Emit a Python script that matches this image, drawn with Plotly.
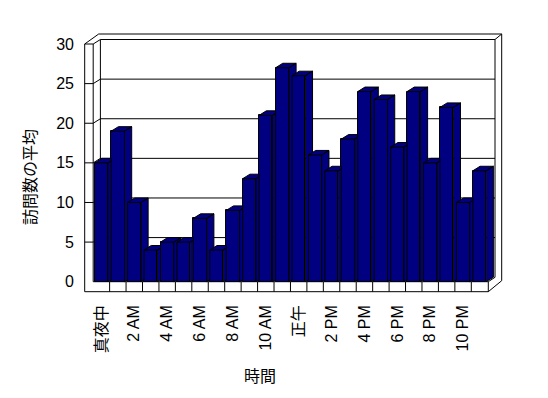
import plotly.graph_objects as go

# ---------------- data ----------------
hours = list(range(24))
visits = [15, 19, 10, 4, 5, 5, 8, 4, 9, 13, 21, 27, 26, 16, 14, 18, 24, 23, 17, 24, 15, 22, 10, 14]
tick_positions = [0, 2, 4, 6, 8, 10, 12, 14, 16, 18, 20, 22]
tick_labels = ["真夜中", "2 AM", "4 AM", "6 AM", "8 AM", "10 AM", "正午",
               "2 PM", "4 PM", "6 PM", "8 PM", "10 PM"]
y_ticks = [0, 5, 10, 15, 20, 25, 30]
x_title = "時間"
y_title = "訪問数の平均"

# ---------------- layout geometry ----------------
W, H = 548, 398
ML, MR, MT, MB = 80, 43, 30, 103
PX_X = 16.44      # px per category
PX_Y = 7.923      # px per value unit
X0_PX = 101.4     # px of category 0 centre
Y0_PX = 281.7     # px of value 0


def px2x(p):
    return (p - X0_PX) / PX_X


def px2y(p):
    return (Y0_PX - p) / PX_Y


x_range = [px2x(ML), px2x(W - MR)]
y_range = [px2y(H - MB), px2y(MT)]

BAR_W = 0.81
DX = 7.2 / PX_X          # depth offset (x, data units)
DY = 4.5 / PX_Y          # depth offset (y, data units)
S = DY / DX
NAVY = "#000080"
FONT = "Liberation Sans, Arial, Noto Sans CJK JP, sans-serif"

fig = go.Figure()

# front faces
fig.add_trace(go.Bar(
    x=hours, y=visits, width=BAR_W,
    marker=dict(color=NAVY, line=dict(color="black", width=1)),
    hoverinfo="skip", showlegend=False,
))

# side and top faces (clipped by the next bar's front face)
n = len(hours)
for i in range(n):
    xc, v = hours[i], visits[i]
    L, R = xc - BAR_W / 2, xc + BAR_W / 2
    xs, ys = [], []
    if i < n - 1:
        vn = visits[i + 1]
        Ln = hours[i + 1] - BAR_W / 2
        g = Ln - R
        # side face
        if vn >= v + DY:
            side = [(R, 0), (R, v), (Ln, v + g * S), (Ln, g * S)]
            pieces = [side]
        elif vn <= v + g * S:
            side = [(R, 0), (R, v), (R + DX, v + DY), (R + DX, vn), (Ln, vn), (Ln, g * S)]
            pieces = [side]
        else:
            xcut = R + (vn - v) / S
            pieces = [[(R, 0), (R, v), (Ln, v + g * S), (Ln, g * S)],
                      [(xcut, vn), (R + DX, v + DY), (R + DX, vn)]]
        # top face
        if vn > v:
            top = [(L, v), (R, v), (Ln, v + g * S), (Ln, v + DY), (L + DX, v + DY)]
        else:
            top = [(L, v), (R, v), (R + DX, v + DY), (L + DX, v + DY)]
        pieces.append(top)
    else:
        pieces = [[(R, 0), (R, v), (R + DX, v + DY), (R + DX, DY)],
                  [(L, v), (R, v), (R + DX, v + DY), (L + DX, v + DY)]]
    for k, poly in enumerate(pieces):
        if k:
            xs.append(None)
            ys.append(None)
        xs += [p[0] for p in poly] + [poly[0][0]]
        ys += [p[1] for p in poly] + [poly[0][1]]
    fig.add_trace(go.Scatter(
        x=xs, y=ys, mode="lines", fill="toself", fillcolor=NAVY,
        line=dict(color="black", width=1), hoverinfo="skip", showlegend=False,
    ))

# ---------------- walls / floor frame (px geometry) ----------------
OUT_L, IN_L, BACK_L = 84.7, 93.2, 100.4
BACK_R, OUT_R, FLOOR_R = 495.0, 501.7, 488.3
TOP_OUT, TOP_FRONT = 34.0, 44.0
FLOOR_TOP, FLOOR_BOT, BACK_FLOOR, OUT_R_BOT = 281.7, 291.7, 277.3, 280.7
BACK_TOP = TOP_FRONT - 4.5

segments = [
    ((OUT_L, TOP_FRONT), (OUT_L, FLOOR_BOT)),
    ((IN_L, TOP_FRONT), (IN_L, FLOOR_TOP)),
    ((OUT_L, TOP_FRONT), (98.7, TOP_OUT)),
    ((98.7, TOP_OUT), (OUT_R, TOP_OUT)),
    ((OUT_R, TOP_OUT), (OUT_R, OUT_R_BOT)),
    ((OUT_R, OUT_R_BOT), (FLOOR_R, FLOOR_BOT)),
    ((OUT_L, FLOOR_BOT), (FLOOR_R, FLOOR_BOT)),
    ((FLOOR_R, FLOOR_TOP), (FLOOR_R, FLOOR_BOT)),
    ((IN_L, FLOOR_TOP), (FLOOR_R, FLOOR_TOP)),
    ((FLOOR_R, FLOOR_TOP), (BACK_R, BACK_FLOOR)),
    ((BACK_R, BACK_TOP), (BACK_R, BACK_FLOOR)),
    ((BACK_R, BACK_TOP), (OUT_R, TOP_OUT)),
    ((BACK_L, BACK_TOP), (BACK_L, BACK_FLOOR)),
]

shapes = []
for (a, b) in segments:
    shapes.append(dict(type="line", xref="x", yref="y", layer="below",
                       x0=px2x(a[0]), y0=px2y(a[1]), x1=px2x(b[0]), y1=px2y(b[1]),
                       line=dict(color="black", width=1)))

# gridlines (front segment on side wall, diagonal, back wall)
for t in y_ticks[1:]:
    xa, xb, xc2, xd = px2x(OUT_L), px2x(IN_L), px2x(BACK_L), px2x(BACK_R)
    path = (f"M {xa},{t} L {xb},{t} L {xc2},{t + DY} L {xd},{t + DY}")
    shapes.append(dict(type="path", xref="x", yref="y", layer="below", path=path,
                       line=dict(color="black", width=1)))

# category separators on floor front face
for k in range(n - 1):
    xs_ = hours[k] + 0.5
    shapes.append(dict(type="line", xref="x", yref="y", layer="below",
                       x0=xs_, x1=xs_, y0=0, y1=px2y(FLOOR_BOT),
                       line=dict(color="black", width=1)))

fig.update_layout(
    width=W, height=H, autosize=False,
    margin=dict(l=ML, r=MR, t=MT, b=MB, pad=0),
    paper_bgcolor="white", plot_bgcolor="white",
    showlegend=False, bargap=0,
    shapes=shapes,
    font=dict(family=FONT, size=16, color="black"),
    xaxis=dict(range=x_range, showgrid=False, zeroline=False, showline=False,
               tickmode="array", tickvals=tick_positions, ticktext=tick_labels,
               tickangle=-90, ticks="", ticklabelstandoff=6,
               tickfont=dict(family=FONT, size=16, color="black"), fixedrange=True),
    yaxis=dict(range=y_range, showgrid=False, zeroline=False, showline=False,
               tickmode="array", tickvals=y_ticks, ticks="", ticklabelstandoff=5,
               tickfont=dict(family=FONT, size=16, color="black"), fixedrange=True),
    annotations=[
        dict(text=y_title, xref="paper", yref="paper",
             x=(30 - ML) / (W - ML - MR), y=(H - MB - 177) / (H - MT - MB),
             xanchor="center", yanchor="middle", textangle=-90, showarrow=False,
             font=dict(family=FONT, size=16, color="black")),
        dict(text=x_title, xref="paper", yref="paper",
             x=(260 - ML) / (W - ML - MR), y=(H - MB - 376) / (H - MT - MB),
             xanchor="center", yanchor="middle", showarrow=False,
             font=dict(family=FONT, size=16, color="black")),
    ],
)

fig.write_html("out.html")
